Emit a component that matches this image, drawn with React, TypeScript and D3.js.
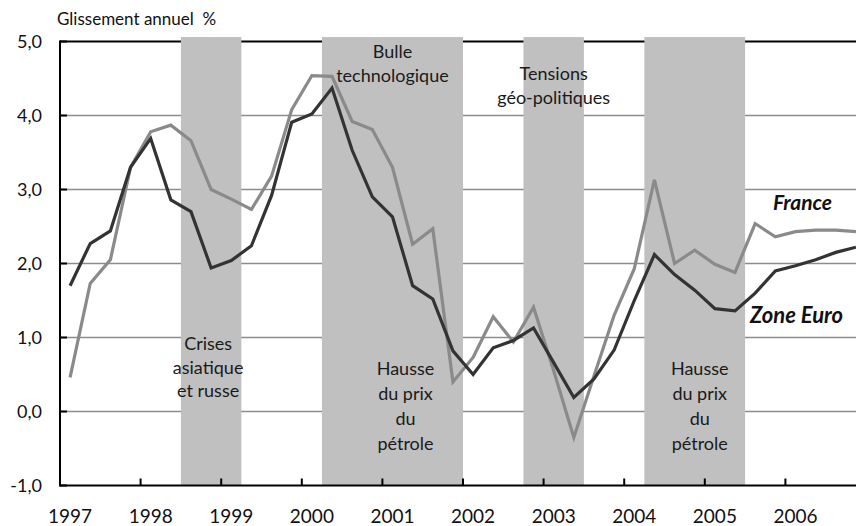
import React from "react";
import * as d3 from "d3";

const years = [1997, 1998, 1999, 2000, 2001, 2002, 2003, 2004, 2005, 2006];
const quarters: string[] = years.flatMap((yr) => [1, 2, 3, 4].map((q) => `${yr}T${q}`));

const zoneEuro = [
  1.70, 2.27, 2.44, 3.30, 3.69, 2.86, 2.70, 1.94, 2.04, 2.24,
  2.92, 3.91, 4.02, 4.37, 3.53, 2.90, 2.63, 1.70, 1.52, 0.82,
  0.50, 0.86, 0.96, 1.13, 0.66, 0.19, 0.44, 0.83, 1.50, 2.12,
  1.85, 1.64, 1.39, 1.36, 1.60, 1.90, 1.97, 2.05, 2.15, 2.22,
];
const france = [
  0.46, 1.73, 2.05, 3.30, 3.78, 3.87, 3.66, 3.00, 2.87, 2.73,
  3.18, 4.08, 4.54, 4.53, 3.92, 3.81, 3.30, 2.26, 2.47, 0.40,
  0.73, 1.28, 0.94, 1.41, 0.55, -0.35, 0.48, 1.30, 1.93, 3.13,
  2.00, 2.18, 1.99, 1.88, 2.54, 2.36, 2.43, 2.45, 2.45, 2.43,
];

const yTicks = [-1, 0, 1, 2, 3, 4, 5];
const yTickLabels = ["-1,0", "0,0", "1,0", "2,0", "3,0", "4,0", "5,0"];

const periods = [
  { start: "1998T3", end: "1999T1", lines: ["Crises", "asiatique", "et russe"], textY: 350, dx: -3, lh: 23.5 },
  { start: "2000T2", end: "2001T4", lines: ["Bulle", "technologique"], textY: 58, dx: 0, lh: 24 },
  { start: "2002T4", end: "2003T2", lines: ["Tensions", "géo-politiques"], textY: 80, dx: 0, lh: 24 },
  { start: "2004T2", end: "2005T2", lines: ["Hausse", "du prix", "du", "pétrole"], textY: 375, dx: 5, lh: 25 },
];
const extraNotes = [
  { anchor: "2000T2", end: "2001T4", lines: ["Hausse", "du prix", "du", "pétrole"], textY: 375, dx: 13, lh: 25 },
];

const bandTop = 5.06;

export default function App() {
  const W = 856;
  const H = 526;
  const left = 60;
  const x = d3.scaleBand<string>().domain(quarters).range([left, left + 40 * 20.15]).paddingInner(0).paddingOuter(0);
  const bw = x.bandwidth();
  const y = d3.scaleLinear().domain([-1, 5]).range([485.5, 41.5]);
  const cx = (i: number) => (x(quarters[i]) as number) + bw / 2;

  const line = d3.line<number>().x((_, i) => cx(i)).y((d) => y(d));

  const fontFam = "Lato, 'Open Sans', sans-serif";
  const plotRight = left + 40 * 20.15;

  const notes = [...periods.map((p) => ({ ...p, anchor: p.start })), ...extraNotes];

  return (
    <svg width={W} height={H} style={{ position: "absolute", left: 0, top: 0, background: "#fff" }}>
      {yTicks.filter((v) => v > -1 && v < 5).map((v) => (
        <line key={v} x1={left} x2={plotRight} y1={y(v)} y2={y(v)} stroke="#8c8c8c" strokeWidth={1.6} />
      ))}
      <line x1={left} x2={plotRight} y1={y(5)} y2={y(5)} stroke="#000" strokeWidth={2} />
      {periods.map((p, k) => {
        const x0 = x(p.start) as number;
        const x1 = (x(p.end) as number) + bw;
        return <rect key={k} x={x0} y={y(bandTop)} width={x1 - x0} height={y(-1) - y(bandTop)} fill="#c0c0c0" />;
      })}
      <line x1={left} x2={left} y1={y(5) - 1} y2={y(-1) + 1} stroke="#000" strokeWidth={2} />
      <line x1={left} x2={plotRight} y1={y(-1)} y2={y(-1)} stroke="#000" strokeWidth={2} />
      {yTicks.map((v) => (
        <line key={v} x1={left} x2={left + 7} y1={y(v)} y2={y(v)} stroke="#000" strokeWidth={2} />
      ))}
      {years.slice(1).map((yr) => {
        const xx = x(`${yr}T1`) as number;
        return <line key={yr} x1={xx} x2={xx} y1={y(-1)} y2={y(-1) - 7} stroke="#000" strokeWidth={2} />;
      })}
      <path d={line(france) || ""} fill="none" stroke="#8a8a8a" strokeWidth={3.2} strokeLinejoin="miter" />
      <path d={line(zoneEuro) || ""} fill="none" stroke="#333333" strokeWidth={3.2} strokeLinejoin="miter" />
      {yTicks.map((v, i) => (
        <text key={v} x={42} y={y(v) + 6} textAnchor="end" fontFamily={fontFam} fontSize={18} fill="#111">
          {yTickLabels[i]}
        </text>
      ))}
      {years.map((yr) => (
        <text key={yr} x={cx(quarters.indexOf(`${yr}T1`))} y={523} textAnchor="middle" fontFamily={fontFam} fontSize={19} fill="#111">
          {yr}
        </text>
      ))}
      <text x={57} y={25} fontFamily={fontFam} fontSize={17} fill="#111" style={{ whiteSpace: "pre" }}>
        {"Glissement annuel  %"}
      </text>
      {notes.map((p, k) => {
        const x0 = x(p.anchor) as number;
        const x1 = (x(p.end) as number) + bw;
        const mx = (x0 + x1) / 2 + p.dx;
        return (
          <text key={k} textAnchor="middle" fontFamily={fontFam} fontSize={18} fill="#1a1a1a">
            {p.lines.map((l, j) => (
              <tspan key={j} x={mx} y={p.textY + j * p.lh}>{l}</tspan>
            ))}
          </text>
        );
      })}
      <text x={773} y={210} fontFamily={fontFam} fontSize={21} fontWeight="bold" fontStyle="italic" fill="#111">France</text>
      <text x={750} y={323} fontFamily={fontFam} fontSize={22} fontWeight="bold" fontStyle="italic" fill="#111">Zone Euro</text>
    </svg>
  );
}
